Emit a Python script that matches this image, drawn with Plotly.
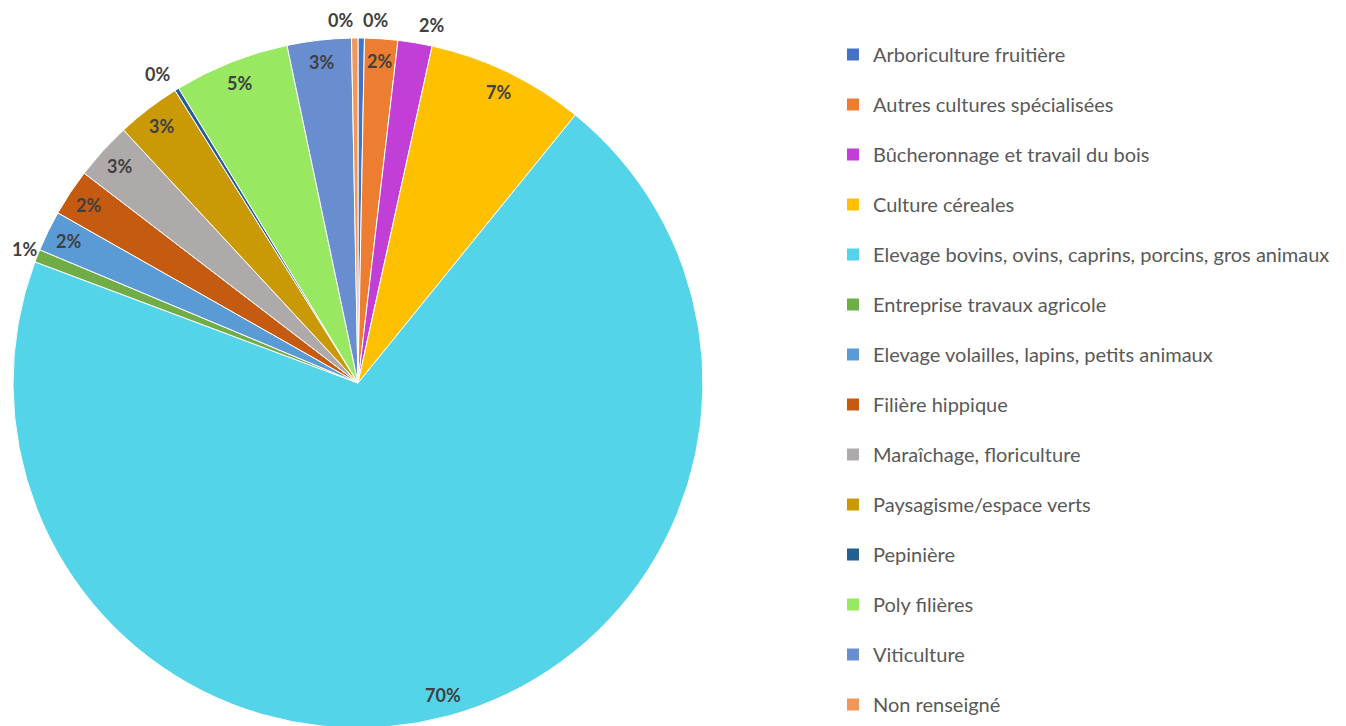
import math
import plotly.graph_objects as go

categories = [
    "Arboriculture fruitière",
    "Autres cultures spécialisées",
    "Bûcheronnage et travail du bois",
    "Culture céreales",
    "Elevage bovins, ovins, caprins, porcins, gros animaux",
    "Entreprise travaux agricole",
    "Elevage volailles, lapins, petits animaux",
    "Filière hippique",
    "Maraîchage, floriculture",
    "Paysagisme/espace verts",
    "Pepinière",
    "Poly filières",
    "Viticulture",
    "Non renseigné",
]
values = [0.3, 1.55, 1.6, 7.4, 69.9, 0.6, 1.9, 2.2, 2.7, 3.0, 0.2, 5.4, 3.0, 0.3]

colors = [
    "#4472C4", "#ED7D31", "#C13FD7", "#FFC000", "#53D4E8", "#70AD47", "#5B9BD5",
    "#C55A11", "#AEAAAA", "#C99A06", "#255E91", "#98E862", "#698ED0", "#F1975A",
]
# label placement style (outside the pie for these categories)
outside_labels = {"Arboriculture fruitière", "Bûcheronnage et travail du bois",
                  "Entreprise travaux agricole", "Pepinière", "Non renseigné"}

W, H = 1346, 750
cx, cy, R = 350, 375, 345  # pie centre / radius in figure pixels

fig = go.Figure()
fig.add_trace(go.Pie(
    labels=categories,
    values=values,
    sort=False,
    direction="clockwise",
    rotation=0,
    marker=dict(colors=colors, line=dict(color="white", width=1)),
    textinfo="none",
    hoverinfo="label+percent",
    showlegend=False,
    domain=dict(x=[(cx - R) / W, (cx + R) / W], y=[(H - cy - R) / H, (H - cy + R) / H]),
))

# legend entries
for cat, col in zip(categories, colors):
    fig.add_trace(go.Scatter(
        x=[None], y=[None], mode="markers",
        marker=dict(symbol="square", size=9, color=col),
        name=cat, legendgroup=cat, showlegend=True, hoverinfo="skip",
    ))

# percentage labels computed from the values
total = sum(values)
annotations = []
cum = 0.0
for cat, v in zip(categories, values):
    mid = (cum + v / 2) / total * 2 * math.pi
    cum += v
    pct = int(math.floor(v / total * 100 + 0.5))
    s, c = math.sin(mid), math.cos(mid)
    if cat in outside_labels:
        r = R + 18
        xshift = math.copysign(14, s) * c * c
    else:
        r = R - 22
        xshift = 0
    px = max(cx + r * s + xshift, 16)
    py = cy - r * c
    annotations.append(dict(
        x=px / W, y=1 - py / H, xref="paper", yref="paper",
        text=f"<b>{pct}%</b>", showarrow=False, xanchor="center", yanchor="middle",
        font=dict(family="Lato", size=18, color="#404040"),
    ))

fig.update_layout(
    width=W, height=H,
    margin=dict(l=0, r=0, t=0, b=0, pad=0),
    paper_bgcolor="white", plot_bgcolor="white",
    xaxis=dict(visible=False), yaxis=dict(visible=False),
    annotations=annotations,
    legend=dict(
        x=825 / W, y=1 - 27 / H, xanchor="left", yanchor="top",
        font=dict(family="Lato", size=20, color="#595959"),
        tracegroupgap=21, itemsizing="constant",
        bgcolor="rgba(0,0,0,0)",
    ),
    font=dict(family="Lato"),
)

fig.write_html("out.html")
